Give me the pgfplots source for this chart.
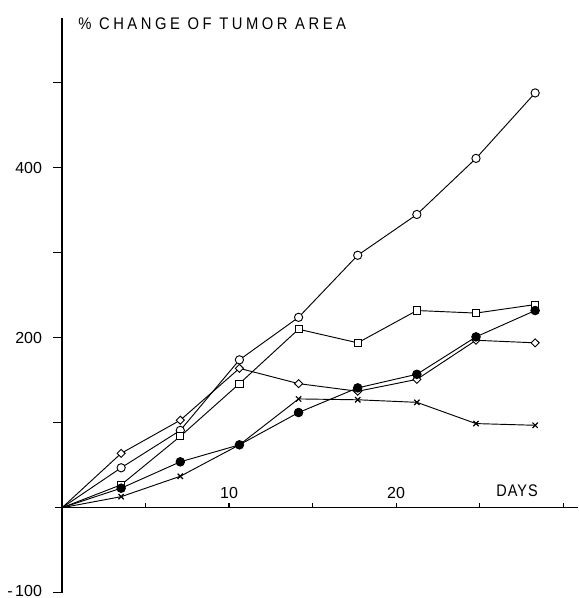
\documentclass[border=0pt]{standalone}
\usepackage{fontspec}
\setmainfont{Liberation Sans}
\newfontfamily\titlefont[LetterSpace=21,FakeStretch=0.88]{Liberation Sans}
\newfontfamily\dayfont[LetterSpace=6,FakeStretch=0.86]{Liberation Sans}
\usepackage{pgfplots}
\pgfplotsset{compat=1.18}
\begin{document}
\begin{tikzpicture}
\begin{axis}[
  x=12.53pt, y=0.6375pt,
  anchor=origin, at={(0pt,0pt)},
  axis lines=middle,
  axis line style={-, line width=1pt},
  xmin=-0.42, xmax=30.9, ymin=-100, ymax=576,
  clip=false,
  xtick={5,10,...,30}, xticklabels={,10,,20,,},
  ytick={-100,0,...,500}, yticklabels={{\raisebox{2.5pt}{-\,100}},0,,200,,400,},
  tick align=outside, major tick length=6.5pt,
  tick style={black, line width=0.9pt},
  xtick style={/pgfplots/major tick length=3.8pt, yshift=3.8pt},
  xticklabel style={anchor=south, yshift=9.5pt},
  yticklabel style={anchor=east, xshift=-5pt},
  /pgf/number format/assume math mode=true,
  ticklabel style={font=\fontsize{12}{14}\selectfont},
  every axis plot/.append style={black, line width=0.7pt, mark indices={2,...,9}},
]
\addplot[mark=*, mark options={fill=white, solid}, mark size=3.1pt] coordinates {(0,0)(3.54,47)(7.08,91)(10.62,174)(14.16,224)(17.7,297)(21.24,345)(24.78,411)(28.32,488)};
\addplot[mark=square*, mark options={fill=white}, mark size=2.7pt] coordinates {(0,0)(3.54,27)(7.08,84)(10.62,146)(14.16,210)(17.7,194)(21.24,232)(24.78,229)(28.32,239)};
\addplot[mark=diamond*, mark options={fill=white, xscale=1.35}, mark size=3pt] coordinates {(0,0)(3.54,64)(7.08,103)(10.62,164)(14.16,146)(17.7,137)(21.24,151)(24.78,197)(28.32,194)};
\addplot[mark=x, mark size=2.8pt, mark options={line width=0.9pt}] coordinates {(0,0)(3.54,13)(7.08,37)(10.62,74)(14.16,128)(17.7,127)(21.24,124)(24.78,99)(28.32,97)};
\addplot[mark=*, mark options={fill=black}, mark size=3.2pt] coordinates {(0,0)(3.54,23)(7.08,54)(10.62,74)(14.16,112)(17.7,141)(21.24,157)(24.78,201)(28.32,232)};
\node[anchor=west, inner sep=0pt, font=\titlefont\fontsize{12.6}{14}\selectfont] at (axis cs:0.96,570) {\% CHANGE OF TUMOR AREA};
\node[inner sep=0pt, font=\dayfont\fontsize{12.6}{14}\selectfont] at (axis cs:27.24,19.6) {DAYS};
\end{axis}
\pgfresetboundingbox
\path (-46.5pt,-67.7pt) rectangle (387pt,380.8pt);
\end{tikzpicture}
\end{document}
